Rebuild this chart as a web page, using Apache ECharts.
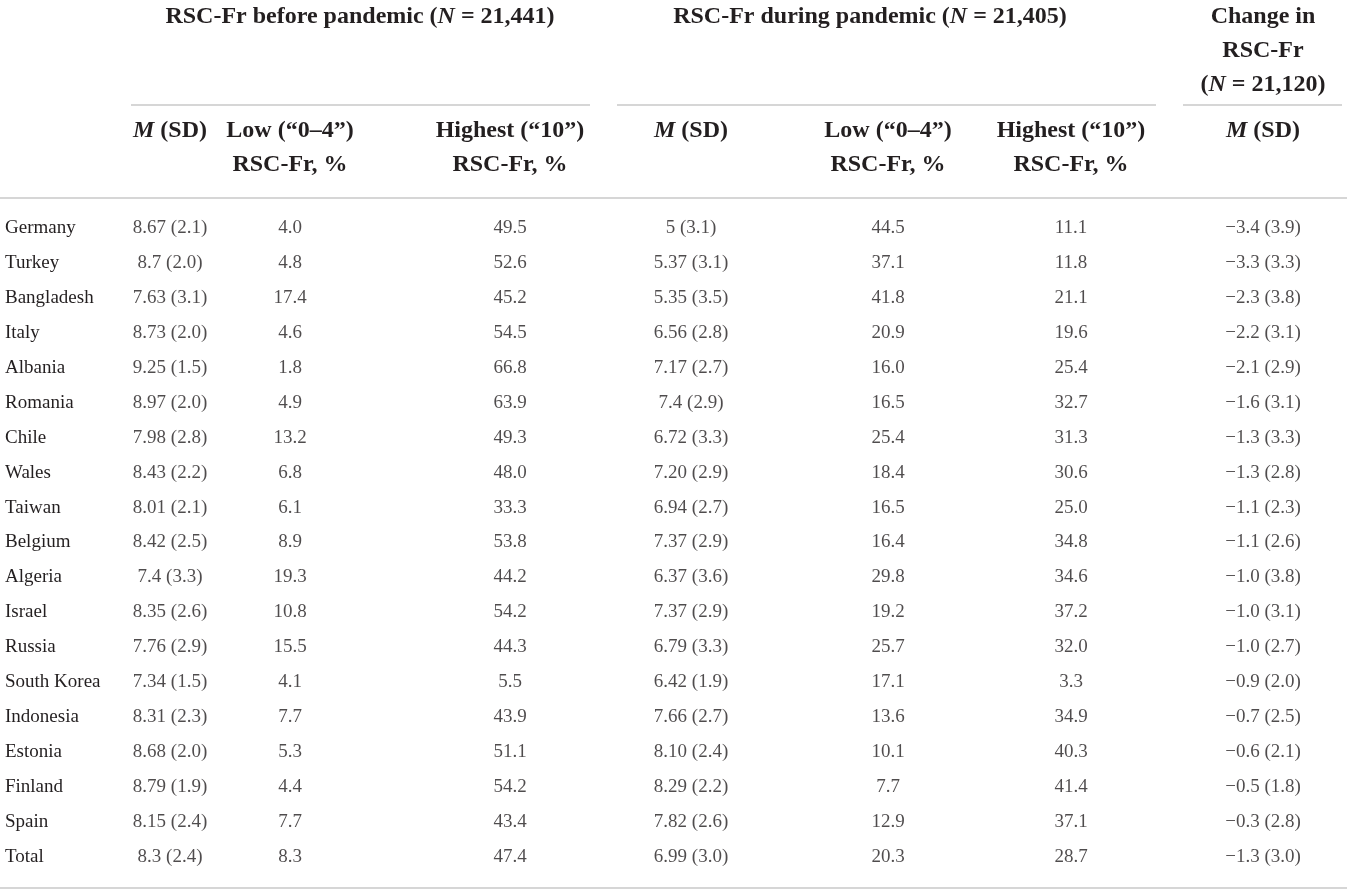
<!DOCTYPE html>
<html>
<head>
<meta charset="utf-8">
<title>RSC-Fr before and during pandemic</title>
<script src="https://cdn.jsdelivr.net/npm/echarts@6/dist/echarts.min.js"></script>
<style>
  html, body { margin: 0; padding: 0; background: #fff; }
  #table1 { width: 1347px; height: 894px; }
</style>
</head>
<body>
<div id="table1"></div>
<script>
var countries = ['Germany', 'Turkey', 'Bangladesh', 'Italy', 'Albania', 'Romania', 'Chile', 'Wales',
    'Taiwan', 'Belgium', 'Algeria', 'Israel', 'Russia', 'South Korea', 'Indonesia', 'Estonia',
    'Finland', 'Spain', 'Total'];

// before pandemic (means kept as printed, decimals vary in the source)
var preMean = ['8.67', '8.7', '7.63', '8.73', '9.25', '8.97', '7.98', '8.43', '8.01', '8.42', '7.4',
    '8.35', '7.76', '7.34', '8.31', '8.68', '8.79', '8.15', '8.3'];
var preSD = [2.1, 2.0, 3.1, 2.0, 1.5, 2.0, 2.8, 2.2, 2.1, 2.5, 3.3, 2.6, 2.9, 1.5, 2.3, 2.0, 1.9, 2.4, 2.4];
var preLow = [4.0, 4.8, 17.4, 4.6, 1.8, 4.9, 13.2, 6.8, 6.1, 8.9, 19.3, 10.8, 15.5, 4.1, 7.7, 5.3, 4.4, 7.7, 8.3];
var preHigh = [49.5, 52.6, 45.2, 54.5, 66.8, 63.9, 49.3, 48.0, 33.3, 53.8, 44.2, 54.2, 44.3, 5.5, 43.9, 51.1, 54.2, 43.4, 47.4];

// during pandemic
var durMean = ['5', '5.37', '5.35', '6.56', '7.17', '7.4', '6.72', '7.20', '6.94', '7.37', '6.37',
    '7.37', '6.79', '6.42', '7.66', '8.10', '8.29', '7.82', '6.99'];
var durSD = [3.1, 3.1, 3.5, 2.8, 2.7, 2.9, 3.3, 2.9, 2.7, 2.9, 3.6, 2.9, 3.3, 1.9, 2.7, 2.4, 2.2, 2.6, 3.0];
var durLow = [44.5, 37.1, 41.8, 20.9, 16.0, 16.5, 25.4, 18.4, 16.5, 16.4, 29.8, 19.2, 25.7, 17.1, 13.6, 10.1, 7.7, 12.9, 20.3];
var durHigh = [11.1, 11.8, 21.1, 19.6, 25.4, 32.7, 31.3, 30.6, 25.0, 34.8, 34.6, 37.2, 32.0, 3.3, 34.9, 40.3, 41.4, 37.1, 28.7];

// change
var chgMean = [-3.4, -3.3, -2.3, -2.2, -2.1, -1.6, -1.3, -1.3, -1.1, -1.1, -1.0, -1.0, -1.0, -0.9, -0.7, -0.6, -0.5, -0.3, -1.3];
var chgSD = [3.9, 3.3, 3.8, 3.1, 2.9, 3.1, 3.3, 2.8, 2.3, 2.6, 3.8, 3.1, 2.7, 2.0, 2.5, 2.1, 1.8, 2.8, 3.0];

// layout: centre of each data column on the x axis (page pixels)
var colCenter = [170, 290, 510, 691, 888, 1071, 1263];

var FONT = 'Liberation Serif';
var INK = '#231f20';
var RULE = '#c9c9c9';
var HEAD_SIZE = 24;
var BODY_SIZE = 19;

function sign(v) {
    return (v < 0 ? '\u2212' : '') + Math.abs(v).toFixed(1);
}

var columns = [
    function (i) { return preMean[i] + ' (' + preSD[i].toFixed(1) + ')'; },
    function (i) { return preLow[i].toFixed(1); },
    function (i) { return preHigh[i].toFixed(1); },
    function (i) { return durMean[i] + ' (' + durSD[i].toFixed(1) + ')'; },
    function (i) { return durLow[i].toFixed(1); },
    function (i) { return durHigh[i].toFixed(1); },
    function (i) { return sign(chgMean[i]) + ' (' + chgSD[i].toFixed(1) + ')'; }
];

var series = columns.map(function (fmt, c) {
    return {
        type: 'scatter',
        symbolSize: 1,
        itemStyle: { color: 'rgba(0,0,0,0)' },
        silent: true,
        data: countries.map(function (name, i) {
            return { value: [colCenter[c], name], text: fmt(i) };
        }),
        label: {
            show: true,
            position: 'inside',
            color: INK,
            fontFamily: FONT,
            fontSize: BODY_SIZE,
            formatter: function (p) { return p.data.text; }
        }
    };
});

// header text helpers
function head(x, y, text) {
    return {
        type: 'text',
        x: x,
        y: y,
        style: {
            text: text,
            fill: INK,
            font: 'bold ' + HEAD_SIZE + 'px "' + FONT + '"',
            align: 'center',
            verticalAlign: 'middle',
            textAlign: 'center',
            textVerticalAlign: 'middle',
            rich: {
                b: { fontFamily: FONT, fontSize: HEAD_SIZE, fontWeight: 'bold', color: INK },
                i: { fontFamily: FONT, fontSize: HEAD_SIZE, fontWeight: 'bold', fontStyle: 'italic', color: INK }
            }
        }
    };
}
function rule(x1, x2, y) {
    return {
        type: 'line',
        shape: { x1: x1, y1: y, x2: x2, y2: y },
        style: { stroke: RULE, lineWidth: 1.5 }
    };
}

var graphics = [
    head(360, 17, '{b|RSC-Fr before pandemic (}{i|N}{b| = 21,441)}'),
    head(870, 17, '{b|RSC-Fr during pandemic (}{i|N}{b| = 21,405)}'),
    head(1263, 17, '{b|Change in}'),
    head(1263, 51, '{b|RSC-Fr}'),
    head(1263, 85, '{b|(}{i|N}{b| = 21,120)}'),
    rule(131, 590, 105),
    rule(617, 1156, 105),
    rule(1183, 1342, 105),
    rule(0, 1347, 198),
    rule(0, 1347, 888)
];
var subHead = [
    ['{i|M}{b| (SD)}', ''],
    ['{b|Low (\u201c0\u20134\u201d)}', '{b|RSC-Fr, %}'],
    ['{b|Highest (\u201c10\u201d)}', '{b|RSC-Fr, %}'],
    ['{i|M}{b| (SD)}', ''],
    ['{b|Low (\u201c0\u20134\u201d)}', '{b|RSC-Fr, %}'],
    ['{b|Highest (\u201c10\u201d)}', '{b|RSC-Fr, %}'],
    ['{i|M}{b| (SD)}', '']
];
subHead.forEach(function (h, c) {
    graphics.push(head(colCenter[c], 131, h[0]));
    if (h[1]) graphics.push(head(colCenter[c], 165, h[1]));
});

var myChart = echarts.init(document.getElementById('table1'));
var option = {
    backgroundColor: '#fff',
    animation: false,
    grid: { left: 0, right: 0, top: 210.5, bottom: 19.5 },
    xAxis: {
        type: 'value',
        min: 0,
        max: 1347,
        show: false
    },
    yAxis: {
        type: 'category',
        inverse: true,
        data: countries,
        axisLine: { show: false },
        axisTick: { show: false },
        splitLine: { show: false },
        axisLabel: {
            align: 'left',
            margin: -5,
            color: INK,
            fontFamily: FONT,
            fontSize: BODY_SIZE
        }
    },
    graphic: graphics,
    series: series
};
myChart.setOption(option);
</script>
</body>
</html>
